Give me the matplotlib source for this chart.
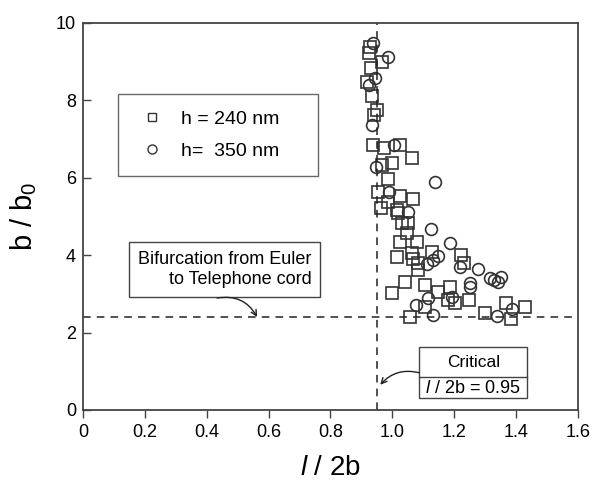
import matplotlib
matplotlib.use("Agg")
import matplotlib.pyplot as plt
from matplotlib.lines import Line2D
from matplotlib.patches import Rectangle

plt.rcParams['font.family'] = ['Liberation Sans', 'DejaVu Sans']
plt.rcParams['mathtext.fontset'] = 'custom'
plt.rcParams['mathtext.rm'] = 'Liberation Sans'
plt.rcParams['mathtext.it'] = 'Liberation Sans:italic'

# h = 240 nm (squares)
sq_x = [0.929, 0.926, 0.968, 0.932, 0.919, 0.935, 0.951, 0.942,
        0.939, 0.974, 1.026, 1.065, 0.968, 1.000, 0.987, 0.955,
        1.026, 1.068, 0.964, 0.987, 1.016, 1.019, 1.032, 1.052,
        1.049, 1.026, 1.081, 1.016, 1.065, 1.068, 1.084, 1.084,
        1.129, 1.000, 1.042, 1.107, 1.149, 1.188, 1.181, 1.107,
        1.058, 1.223, 1.233, 1.204, 1.249, 1.301, 1.369, 1.385, 1.430]
sq_y = [9.38, 9.22, 8.99, 8.84, 8.48, 8.11, 7.75, 7.62,
        6.85, 6.77, 6.85, 6.51, 6.33, 6.38, 5.97, 5.63,
        5.53, 5.45, 5.22, 5.37, 5.17, 5.09, 4.83, 4.83,
        4.57, 4.34, 4.34, 3.95, 4.06, 3.90, 3.80, 3.62,
        4.08, 3.02, 3.31, 3.23, 3.05, 3.18, 2.84, 2.66,
        2.40, 4.01, 3.80, 2.76, 2.84, 2.51, 2.76, 2.35, 2.66]

# h = 350 nm (circles)
ci_x = [0.939, 0.987, 0.945, 0.926, 0.935, 1.006, 0.948, 1.139,
        0.990, 1.052, 1.126, 1.113, 1.133, 1.149, 1.188, 1.117,
        1.078, 1.133, 1.194, 1.220, 1.278, 1.317, 1.330, 1.343,
        1.353, 1.252, 1.252, 1.340, 1.388]
ci_y = [9.48, 9.12, 8.58, 8.40, 7.36, 6.85, 6.28, 5.89,
        5.63, 5.12, 4.68, 3.77, 3.88, 3.98, 4.32, 2.89,
        2.71, 2.45, 2.92, 3.70, 3.64, 3.41, 3.36, 3.31,
        3.44, 3.28, 3.18, 2.43, 2.61]

labels = ["h = 240 nm", "h=  350 nm"]
critical_x = 0.95
bifurcation_y = 2.4

edge = '#333333'

fig = plt.figure(figsize=(5.97, 4.84), dpi=100)
ax = fig.add_axes([0.139, 0.153, 0.829, 0.800])

ax.plot(sq_x, sq_y, linestyle='none', marker='s', ms=8, mfc='none',
        mec=edge, mew=1.2)
ax.plot(ci_x, ci_y, linestyle='none', marker='o', ms=8.5, mfc='none',
        mec=edge, mew=1.2)

ax.axvline(critical_x, color='#222222', lw=1.1, ls=(0, (5, 4)))
ax.axhline(bifurcation_y, color='#222222', lw=1.1, ls=(0, (5, 4)))

ax.set_xlim(0, 1.6)
ax.set_ylim(0, 10)
ax.set_xticks([0, 0.2, 0.4, 0.6, 0.8, 1.0, 1.2, 1.4, 1.6])
ax.set_xticklabels(['0', '0.2', '0.4', '0.6', '0.8', '1.0', '1.2', '1.4', '1.6'])
ax.set_yticks([0, 2, 4, 6, 8, 10])
ax.tick_params(axis='x', direction='out', length=6, width=1, pad=4,
               labelsize=13, color='#444444')
ax.tick_params(axis='y', direction='in', length=6, width=1, pad=5,
               labelsize=13, color='#444444')
for s in ax.spines.values():
    s.set_color('#444444')
    s.set_linewidth(1.3)

ax.set_xlabel(r'$\mathit{l}$ / 2b', fontsize=20, labelpad=10)
ax.set_ylabel(r'b / b$_\mathrm{0}$', fontsize=21, labelpad=12)

handles = [Line2D([], [], ls='none', marker='s', ms=6, mfc='none', mec=edge, mew=1),
           Line2D([], [], ls='none', marker='o', ms=6.5, mfc='none', mec=edge, mew=1)]
leg = ax.legend(handles, labels, loc='upper left',
                bbox_to_anchor=(0.071, 0.613, 0.404, 0.204), mode='expand',
                fontsize=14, frameon=True, fancybox=False, borderpad=0.85,
                labelspacing=0.75, handlelength=1.8, handletextpad=0.6,
                borderaxespad=0)
leg.get_frame().set_edgecolor('#444444')
leg.get_frame().set_linewidth(1.0)

# bifurcation note
ax.text(0.738, 3.62, 'Bifurcation from Euler\nto Telephone cord',
        ha='right', va='center', multialignment='right', fontsize=13,
        linespacing=1.25,
        bbox=dict(boxstyle='square,pad=0.5', fc='white', ec='#444444', lw=1.0))
ax.annotate('', xy=(0.563, bifurcation_y), xytext=(0.434, 2.89),
            arrowprops=dict(arrowstyle='->', color='#222222', lw=1.0,
                            connectionstyle='arc3,rad=-0.35',
                            shrinkA=0, shrinkB=0))

# critical note
ax.add_patch(Rectangle((1.087, 0.31), 0.35, 1.32, fill=False,
                       ec='#444444', lw=1.0, zorder=3))
ax.plot([1.087, 1.437], [0.85, 0.85], color='#444444', lw=1.0, zorder=3)
ax.text(1.262, 1.22, 'Critical', ha='center', va='center', fontsize=12.5)
ax.text(1.262, 0.56, r'$\mathit{l}$ / 2b = 0.95', ha='center', va='center',
        fontsize=13)
ax.annotate('', xy=(0.961, 0.65), xytext=(1.087, 0.96),
            arrowprops=dict(arrowstyle='->', color='#222222', lw=1.0,
                            connectionstyle='arc3,rad=0.3',
                            shrinkA=0, shrinkB=0))

fig.savefig('out.png', dpi=100, facecolor='white')
